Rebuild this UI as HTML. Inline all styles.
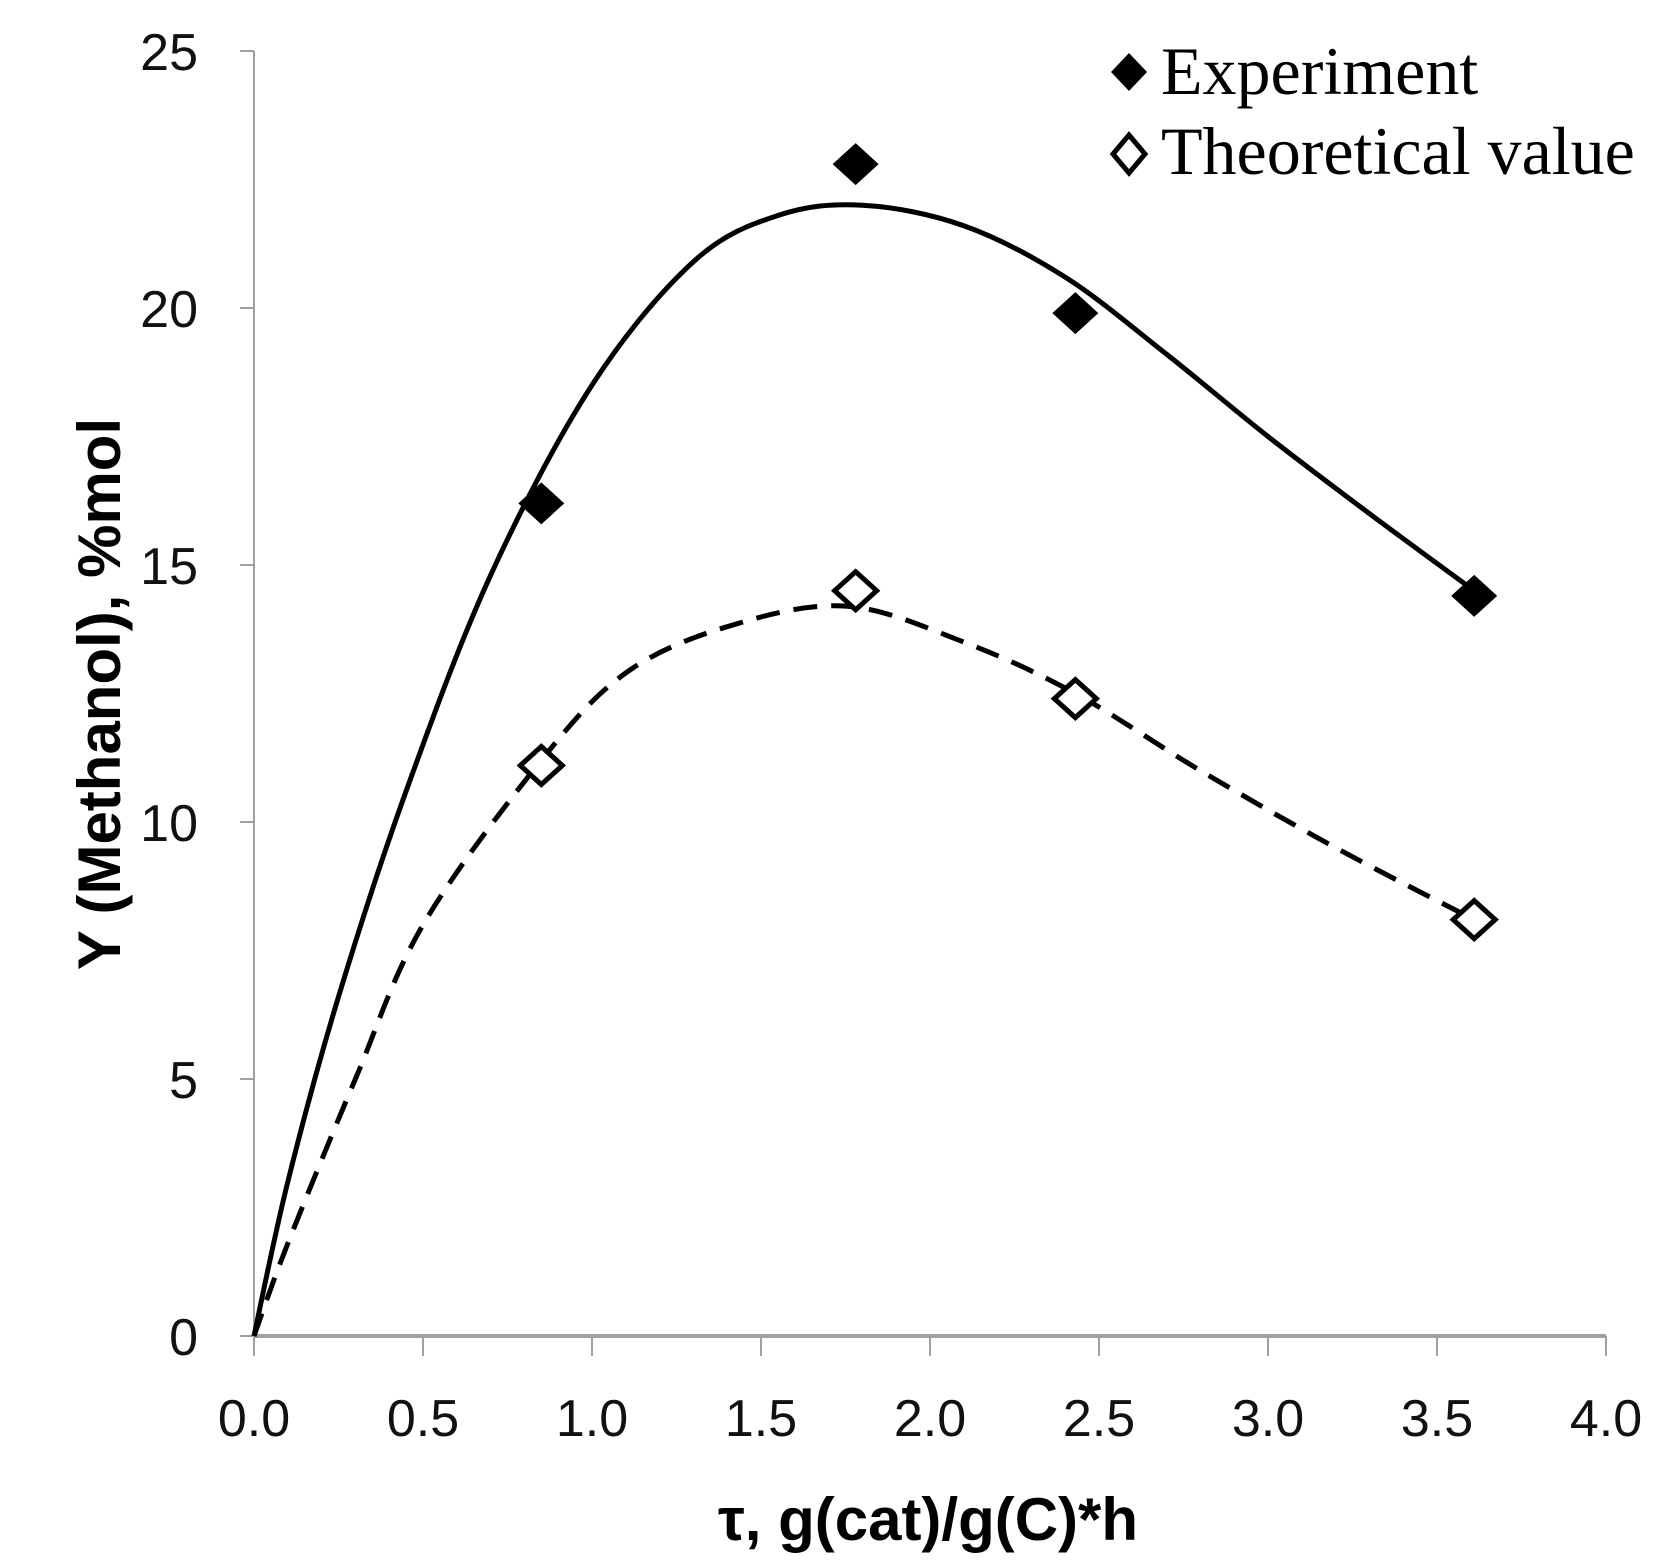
<!DOCTYPE html>
<html><head><meta charset="utf-8"><style>
html,body{margin:0;padding:0;background:#fff;}
svg{display:block;}
</style></head><body>
<svg id="chart" width="1665" height="1560" viewBox="0 0 1665 1560" xmlns="http://www.w3.org/2000/svg">
<g id="axes"></g>
<g id="curves"></g>
<g id="points"></g>
<text x="928" y="1540" text-anchor="middle" font-family="Liberation Sans, sans-serif" font-weight="bold" font-size="60">τ, g(cat)/g(C)*h</text>
<text transform="translate(120,694) rotate(-90)" text-anchor="middle" font-family="Liberation Sans, sans-serif" font-weight="bold" font-size="60">Y (Methanol), %mol</text>
<g>
<path d="M1129,53 L1147,72 L1129,91 L1111,72 Z" fill="#000"/>
<text x="1161" y="94" font-family="Liberation Serif, serif" font-size="68">Experiment</text>
<path d="M1129,135 L1145,154 L1129,173 L1113,154 Z" fill="#fff" stroke="#000" stroke-width="5"/>
<text x="1161" y="174" font-family="Liberation Serif, serif" font-size="68">Theoretical value</text>
</g>
</svg>
<script>
const xTicks = [0, 0.5, 1.0, 1.5, 2.0, 2.5, 3.0, 3.5, 4.0];
const xTickLabels = ["0.0","0.5","1.0","1.5","2.0","2.5","3.0","3.5","4.0"];
const yTicks = [0, 5, 10, 15, 20, 25];
const yTickLabels = ["0","5","10","15","20","25"];
const expX = [0.85, 1.78, 2.43, 3.61];
const expY = [16.2, 22.8, 19.9, 14.4];
const theoX = [0.85, 1.78, 2.43, 3.61];
const theoY = [11.1, 14.5, 12.4, 8.1];
const fitExpX = [0, 0.1, 0.25, 0.45, 0.7, 1.0, 1.3, 1.55, 1.8, 2.1, 2.4, 2.7, 3.0, 3.3, 3.61];
const fitExpY = [0, 3, 6.6, 10.6, 14.8, 18.5, 20.9, 21.8, 22, 21.6, 20.6, 19.1, 17.5, 16.0, 14.5];
const fitTheoX = [0, 0.1, 0.3, 0.5, 0.85, 1.1, 1.4, 1.75, 2.1, 2.43, 2.8, 3.2, 3.61];
const fitTheoY = [0, 1.8, 5, 8, 11.2, 12.9, 13.8, 14.2, 13.5, 12.5, 11, 9.5, 8.1];

const NS = "http://www.w3.org/2000/svg";
const X0 = 254, X1 = 1606, Y0 = 1336, Y1 = 51;
const sx = v => X0 + (v - 0) / 4 * (X1 - X0);
const sy = v => Y0 - (v - 0) / 25 * (Y0 - Y1);
function mk(tag, attrs, parent) {
  const e = document.createElementNS(NS, tag);
  for (const k in attrs) e.setAttribute(k, attrs[k]);
  parent.appendChild(e);
  return e;
}
const axes = document.getElementById('axes');
let el = mk('line', {x1: X0, y1: Y0, x2: X1, y2: Y0, stroke: '#a0a0a0', 'stroke-width': 4}, axes);


el = mk('line', {x1: X0, y1: Y0, x2: X0, y2: Y1, stroke: '#a0a0a0', 'stroke-width': 2}, axes);


xTicks.forEach((t, i) => {
  const x = sx(t);
  let tk = mk('line', {x1: x, y1: Y0, x2: x, y2: Y0 + 20, stroke: '#a0a0a0', 'stroke-width': 2}, axes);
  
  
  let lb = mk('text', {x: x, y: 1436, 'text-anchor': 'middle', 'font-family': 'Liberation Sans, sans-serif', 'font-size': 52, fill: '#111'}, axes);
  lb.textContent = xTickLabels[i];
  
  
});
yTicks.forEach((t, i) => {
  const y = sy(t);
  let tk = mk('line', {x1: X0 - 14, y1: y, x2: X0, y2: y, stroke: '#a0a0a0', 'stroke-width': 2}, axes);
  
  
  let lb = mk('text', {x: 198, y: y + 19, 'text-anchor': 'end', 'font-family': 'Liberation Sans, sans-serif', 'font-size': 52, fill: '#111'}, axes);
  lb.textContent = yTickLabels[i];
  
  
});
function smoothPath(xs, ys) {
  const p = xs.map((x, i) => [sx(x), sy(ys[i])]);
  let d = 'M' + p[0][0] + ',' + p[0][1];
  for (let i = 0; i < p.length - 1; i++) {
    const a = p[i - 1] || p[i], b = p[i], c = p[i + 1], e = p[i + 2] || c;
    const c1 = [b[0] + (c[0] - a[0]) / 6, b[1] + (c[1] - a[1]) / 6];
    const c2 = [c[0] - (e[0] - b[0]) / 6, c[1] - (e[1] - b[1]) / 6];
    d += ' C' + c1 + ' ' + c2 + ' ' + c;
  }
  return d;
}
const curves = document.getElementById('curves');
el = mk('path', {d: smoothPath(fitExpX, fitExpY), fill: 'none', stroke: '#000', 'stroke-width': 5}, curves);


el = mk('path', {d: smoothPath(fitTheoX, fitTheoY), fill: 'none', stroke: '#000', 'stroke-width': 5, 'stroke-dasharray': '24 14'}, curves);


const pts = document.getElementById('points');
function diamond(x, y, rx, ry) { return `M${x},${y - ry} L${x + rx},${y} L${x},${y + ry} L${x - rx},${y} Z`; }
expX.forEach((v, i) => {
  let m = mk('path', {d: diamond(sx(v), sy(expY[i]), 23, 21), fill: '#000'}, pts);
  
  
});
theoX.forEach((v, i) => {
  let m = mk('path', {d: diamond(sx(v), sy(theoY[i]), 21, 19), fill: '#fff', stroke: '#000', 'stroke-width': 5}, pts);
  
  
});
</script>
</body></html>
